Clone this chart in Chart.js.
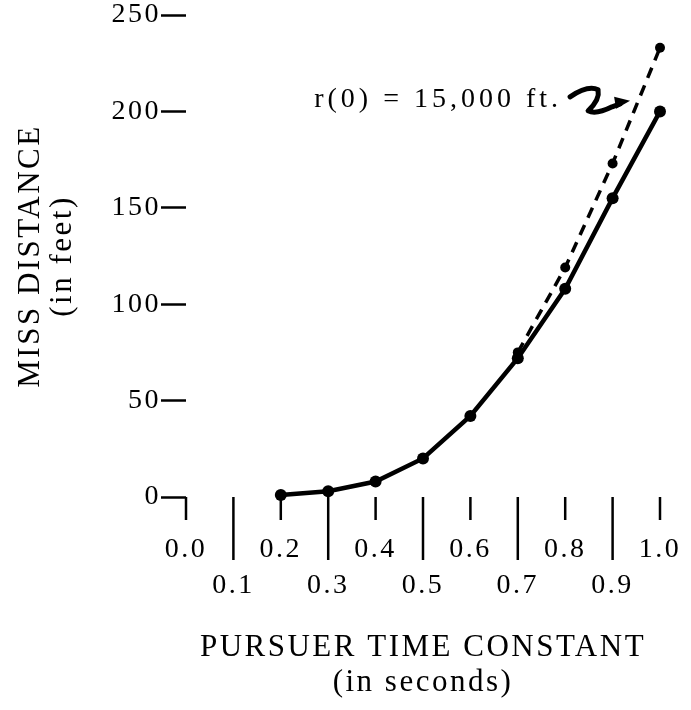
<!DOCTYPE html>
<html>
<head>
<meta charset="utf-8">
<title>Miss distance vs pursuer time constant</title>
<script src="https://cdn.jsdelivr.net/npm/chart.js@4.4.1/dist/chart.umd.min.js"></script>
<style>
  html, body { margin: 0; padding: 0; background: #fff; }
</style>
</head>
<body>
<canvas id="missChart" width="691" height="710"></canvas>
<script>
// valores
const timeConstants = [0.2, 0.3, 0.4, 0.5, 0.6, 0.7, 0.8, 0.9, 1.0];
const missDistance = [1, 3, 8, 20, 42, 72, 108, 155, 200];
const dashedTimes = [0.7, 0.8, 0.9, 1.0];
const missDistance15k = [75, 119, 173, 233];
const xTickLabels = ['0.0', '0.1', '0.2', '0.3', '0.4', '0.5', '0.6', '0.7', '0.8', '0.9', '1.0'];
const yTickLabels = ['0', '50', '100', '150', '200', '250'];
const noteText = 'r(0) = 15,000 ft.';

const serif = 'Liberation Serif';

// espaciado tipo maquina de escribir
const typewriter = {
    id: 'typewriter',
    beforeDraw(chart) {
        chart.ctx.letterSpacing = '2.5px';
    }
};

// marcas del eje x: cortas en pares, largas en impares
const xMarks = {
    id: 'xMarks',
    afterDraw(chart) {
        const ctx = chart.ctx;
        const xs = chart.scales.x;
        const y0 = chart.scales.y.getPixelForValue(0);
        ctx.save();
        ctx.strokeStyle = '#000';
        ctx.lineWidth = 2.5;
        xs.ticks.forEach((t, i) => {
            const px = xs.getPixelForValue(t.value);
            ctx.beginPath();
            ctx.moveTo(px, y0);
            ctx.lineTo(px, y0 + (i % 2 ? 63 : 23));
            ctx.stroke();
        });
        ctx.restore();
    }
};

// nota con flecha
const note = {
    id: 'note',
    afterDraw(chart) {
        const ctx = chart.ctx;
        const ax = chart.scales.x.getPixelForValue(0.785);
        const ay = chart.scales.y.getPixelForValue(206);
        ctx.save();
        ctx.letterSpacing = '4px';
        ctx.font = '28px ' + serif;
        ctx.fillStyle = '#000';
        ctx.textAlign = 'right';
        ctx.textBaseline = 'middle';
        ctx.fillText(noteText, ax + 4, ay);
        ctx.strokeStyle = '#000';
        ctx.lineWidth = 5;
        ctx.lineCap = 'round';
        ctx.lineJoin = 'round';
        ctx.beginPath();
        ctx.moveTo(ax + 12, ay - 3);
        ctx.quadraticCurveTo(ax + 30, ay - 15, ax + 40, ay - 10);
        ctx.quadraticCurveTo(ax + 42, ay + 0, ax + 30, ay + 11);
        ctx.quadraticCurveTo(ax + 38, ay + 15, ax + 54, ay + 7);
        ctx.lineTo(ax + 62, ay + 4);
        ctx.stroke();
        ctx.beginPath();
        ctx.moveTo(ax + 72, ay + 1);
        ctx.lineTo(ax + 56, ay - 3);
        ctx.lineTo(ax + 58, ay + 9);
        ctx.closePath();
        ctx.fillStyle = '#000';
        ctx.fill();
        ctx.restore();
    }
};

new Chart(document.getElementById('missChart'), {
    type: 'line',
    data: {
        datasets: [{
            label: 'Miss distance',
            data: timeConstants.map((t, i) => ({ x: t, y: missDistance[i] })),
            borderColor: '#000',
            backgroundColor: '#000',
            borderWidth: 4.5,
            pointRadius: 6,
            pointBorderWidth: 0,
            tension: 0,
            clip: false
        }, {
            label: noteText,
            data: dashedTimes.map((t, i) => ({ x: t, y: missDistance15k[i] })),
            borderColor: '#000',
            backgroundColor: '#000',
            borderWidth: 3.5,
            borderDash: [11, 8],
            pointRadius: 5,
            pointBorderWidth: 0,
            tension: 0,
            clip: false
        }]
    },
    options: {
        responsive: false,
        animation: false,
        layout: { padding: { left: 10, right: 31, top: 15, bottom: 0 } },
        plugins: {
            legend: { display: false },
            tooltip: { enabled: false }
        },
        scales: {
            x: {
                type: 'linear',
                min: 0,
                max: 1,
                border: { display: false },
                grid: { display: true, drawOnChartArea: false, drawTicks: false },
                ticks: {
                    stepSize: 0.1,
                    autoSkip: false,
                    maxRotation: 0,
                    padding: 35,
                    color: '#000',
                    font: { family: serif, size: 28, lineHeight: 36 / 28 },
                    callback: (v, i) => i % 2 ? ['', xTickLabels[i]] : [xTickLabels[i], '']
                },
                title: {
                    display: true,
                    text: ['PURSUER TIME CONSTANT', '(in seconds)'],
                    color: '#000',
                    font: { family: serif, size: 31, lineHeight: 35 / 31 },
                    padding: { top: 0, bottom: 10 }
                },
                afterFit: s => {
                    s.height = 213;
                    s.paddingLeft = s.paddingRight = 0;
                }
            },
            y: {
                min: 0,
                max: 250,
                border: { display: false },
                grid: { drawOnChartArea: false, tickLength: 25, tickWidth: 2.5, tickColor: '#000' },
                ticks: {
                    stepSize: 50,
                    padding: 0,
                    color: '#000',
                    font: { family: serif, size: 28 },
                    callback: (v, i) => yTickLabels[i]
                },
                title: {
                    display: true,
                    text: ['MISS DISTANCE', '(in feet)'],
                    color: '#000',
                    font: { family: serif, size: 31, lineHeight: 32 / 31 },
                    padding: { top: 5, bottom: 0 }
                },
                afterFit: s => {
                    s.width = 176;
                    s.paddingTop = s.paddingBottom = 0;
                }
            }
        }
    },
    plugins: [typewriter, xMarks, note]
});
</script>
</body>
</html>
